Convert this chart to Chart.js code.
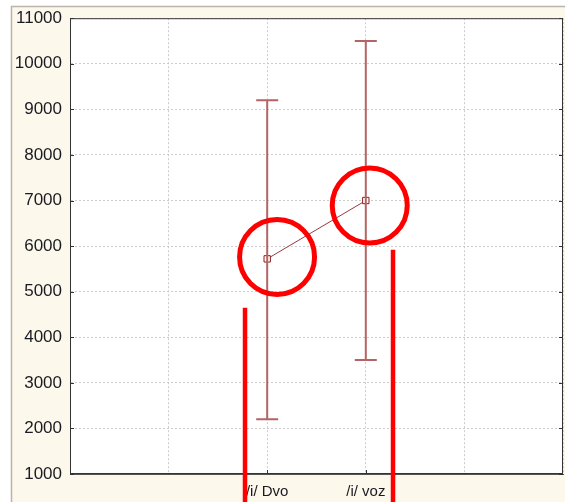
<!DOCTYPE html>
<html>
<head>
<meta charset="utf-8">
<script src="https://cdn.jsdelivr.net/npm/chart.js@4.4.1/dist/chart.umd.min.js"></script>
<style>
html,body{margin:0;padding:0;background:#fff;}
#wrap{width:565px;height:502px;}
</style>
</head>
<body>
<div id="wrap"><canvas id="c" width="565" height="502"></canvas></div>
<script>
// ---- data ----
const categories = ["/i/ Dvo", "/i/ voz"];
const categoryPos = [2, 3];
const means = [5720, 7000];
const errLow = [2200, 3500];
const errHigh = [9200, 10500];
const yTicks = [1000, 2000, 3000, 4000, 5000, 6000, 7000, 8000, 9000, 10000, 11000];
// annotations (data coordinates)
const circleX = [2.1, 3.04];
const circleY = [5760, 6890];
const markLineX = [1.775, 3.276];
const markLineTop = [4650, 5920];

const bgPlugin = {
  id: 'bg',
  beforeDraw(chart) {
    const ctx = chart.ctx, a = chart.chartArea;
    ctx.save();
    ctx.fillStyle = '#ffffff';
    ctx.fillRect(0, 0, chart.width, chart.height);
    ctx.fillStyle = '#fdf8ec';
    ctx.fillRect(11, 6, chart.width - 11, chart.height - 6);
    ctx.strokeStyle = '#b8b4ac';
    ctx.lineWidth = 1.5;
    ctx.beginPath();
    ctx.moveTo(11.5, chart.height); ctx.lineTo(11.5, 6.5); ctx.lineTo(chart.width, 6.5);
    ctx.stroke();
    ctx.fillStyle = '#ffffff';
    ctx.fillRect(a.left, a.top, a.right - a.left, a.bottom - a.top);
    ctx.restore();
  },
  afterDatasetsDraw(chart) {
    const ctx = chart.ctx, a = chart.chartArea;
    const xs = chart.scales.x, ys = chart.scales.y;
    ctx.save();
    // frame
    ctx.strokeStyle = '#333';
    ctx.lineWidth = 1;
    ctx.strokeRect(a.left + 0.5, a.top + 0.5, a.right - a.left - 1, a.bottom - a.top - 1);
    // inward ticks
    ctx.beginPath();
    yTicks.forEach(v => {
      const py = Math.round(ys.getPixelForValue(v)) + 0.5;
      ctx.moveTo(a.left, py); ctx.lineTo(a.left + 4, py);
      ctx.moveTo(a.right, py); ctx.lineTo(a.right - 4, py);
    });
    categoryPos.forEach(v => {
      const px = Math.round(xs.getPixelForValue(v)) + 0.5;
      ctx.moveTo(px, a.bottom); ctx.lineTo(px, a.bottom - 4);
    });
    ctx.stroke();
    // error bars
    ctx.strokeStyle = '#b46464';
    ctx.lineWidth = 2;
    categoryPos.forEach((x, i) => {
      const px = xs.getPixelForValue(x);
      const lo = ys.getPixelForValue(errLow[i]);
      const hi = ys.getPixelForValue(errHigh[i]);
      ctx.beginPath();
      ctx.moveTo(px, lo); ctx.lineTo(px, hi);
      ctx.moveTo(px - 11, hi); ctx.lineTo(px + 11, hi);
      ctx.moveTo(px - 11, lo); ctx.lineTo(px + 11, lo);
      ctx.stroke();
    });
    ctx.restore();
  },
  afterDraw(chart) {
    const ctx = chart.ctx;
    const xs = chart.scales.x, ys = chart.scales.y;
    ctx.save();
    ctx.strokeStyle = '#ff0000';
    ctx.lineWidth = 5;
    circleX.forEach((x, i) => {
      ctx.beginPath();
      ctx.arc(xs.getPixelForValue(x), ys.getPixelForValue(circleY[i]), 37.5, 0, Math.PI * 2);
      ctx.stroke();
    });
    ctx.lineWidth = 4.5;
    markLineX.forEach((x, i) => {
      const px = xs.getPixelForValue(x);
      ctx.beginPath();
      ctx.moveTo(px, ys.getPixelForValue(markLineTop[i]));
      ctx.lineTo(px, chart.height);
      ctx.stroke();
    });
    ctx.restore();
  }
};

new Chart(document.getElementById('c'), {
  type: 'scatter',
  data: {
    datasets: [{
      data: categoryPos.map((x, i) => ({x: x, y: means[i]})),
      showLine: true,
      borderColor: '#9a3a3a',
      borderWidth: 1,
      pointStyle: 'rect',
      pointRadius: 4.5,
      pointBackgroundColor: '#ffffff',
      pointBorderColor: '#8b1a1a',
      pointBorderWidth: 1
    }]
  },
  options: {
    responsive: false,
    animation: false,
    events: [],
    layout: {autoPadding: false, padding: {left: 0, right: 2, top: 17, bottom: 0}},
    plugins: {legend: {display: false}, tooltip: {enabled: false}},
    scales: {
      x: {
        type: 'linear', min: 0, max: 5,
        afterFit(s) { s.height = 28; s.paddingRight = 0; s.paddingLeft = 0; },
        afterBuildTicks(s) { s.ticks = [0,1,2,3,4,5].map(v => ({value: v})); },
        ticks: {
          autoSkip: false, maxRotation: 0, padding: 9,
          color: '#1a1a22',
          font: {family: 'Liberation Sans', size: 15},
          callback(v) { const i = categoryPos.indexOf(v); return i >= 0 ? categories[i] : ''; }
        },
        grid: {color: '#cccccc', drawTicks: false, lineWidth: 1},
        border: {color: '#555', width: 1, dash: [2, 2]}
      },
      y: {
        type: 'linear', min: 1000, max: 11000,
        afterFit(s) { s.width = 70; },
        afterBuildTicks(s) { s.ticks = yTicks.map(v => ({value: v})); },
        ticks: {
          padding: 8,
          color: '#1a1a22',
          font: {family: 'Liberation Sans', size: 17},
          callback(v) { return String(v); }
        },
        grid: {color: '#cccccc', drawTicks: false, lineWidth: 1},
        border: {color: '#333', width: 1, dash: [2, 2]}
      }
    }
  },
  plugins: [bgPlugin]
});
</script>
</body>
</html>
